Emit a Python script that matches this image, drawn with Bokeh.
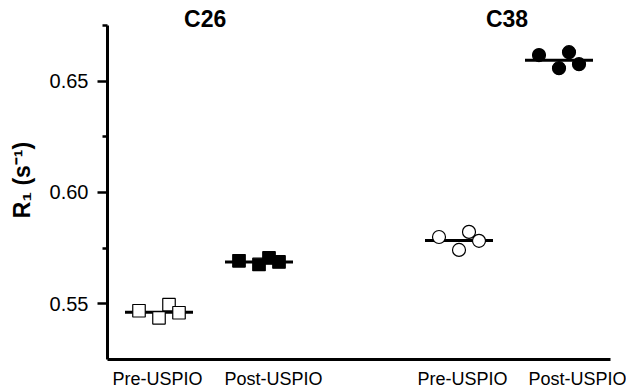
from math import pi
from bokeh.plotting import figure
from bokeh.models import FixedTicker, Label, ColumnDataSource
from bokeh.embed import file_html
from bokeh.resources import INLINE

# ---- data ----
groups = ["C26", "C38"]
conditions = ["Pre-USPIO", "Post-USPIO"]
c26_pre = [0.5469, 0.5437, 0.5496, 0.5460]
c26_post = [0.5693, 0.5677, 0.5706, 0.5688]
c38_pre = [0.5800, 0.5742, 0.5823, 0.5783]
c38_post = [0.6617, 0.6558, 0.6630, 0.6576]
means = [0.5462, 0.5688, 0.5784, 0.6594]
x_tick_labels = ["Pre-USPIO", "Post-USPIO", "Pre-USPIO", "Post-USPIO"]
y_major = [0.55, 0.60, 0.65]
y_minor = [0.575, 0.625, 0.675]

# ---- layout constants ----
centers = [1, 2, 4, 5]
jitter = [-0.2, 0.0, 0.1, 0.2]
half = 0.34
label_pos = [0.985, 2.145, 4.035, 5.205]
FONT = "Liberation Sans"

p = figure(width=626, height=391, x_range=(0.485, 5.515), y_range=(0.525, 0.6862),
           output_backend="svg", toolbar_location=None,
           min_border_left=107, min_border_right=16, min_border_top=0, min_border_bottom=31)
p.grid.visible = False
p.outline_line_color = None
p.background_fill_color = "white"
p.border_fill_color = "white"

# mean lines
p.segment(x0=[c - half for c in centers], x1=[c + half for c in centers],
          y0=means, y1=means, line_color="black", line_width=3)

series = [c26_pre, c26_post, c38_pre, c38_post]
markers = ["square", "square", "circle", "circle"]
fills = ["white", "black", "white", "black"]
sizes = [12.5, 12.5, 13, 13]
for vals, c, m, f, s in zip(series, centers, markers, fills, sizes):
    src = ColumnDataSource(dict(x=[c + j for j in jitter], y=vals))
    p.scatter("x", "y", source=src, marker=m, size=s, fill_color=f,
              line_color="black", line_width=1.2)

# y axis
ya = p.yaxis[0]
ya.bounds = (0.525, 0.675)
ya.ticker = FixedTicker(ticks=y_major, minor_ticks=y_minor)
ya.major_label_overrides = {0.55: "0.55", 0.6: "0.60", 0.65: "0.65"}
ya.axis_line_width = 3
ya.major_tick_line_width = 2.5
ya.minor_tick_line_width = 2.5
ya.major_tick_out = 10
ya.major_tick_in = 0
ya.minor_tick_out = 5
ya.minor_tick_in = 0
ya.major_label_standoff = 9
ya.major_label_text_font = FONT
ya.major_label_text_font_size = "20px"
ya.major_label_text_color = "black"
ya.axis_label = "R\u2081 (s\u207b\u00b9)"
ya.axis_label_text_font = FONT
ya.axis_label_text_font_size = "23px"
ya.axis_label_text_font_style = "bold"
ya.axis_label_text_color = "black"
ya.axis_label_standoff = 12

# x axis
xa = p.xaxis[0]
xa.ticker = FixedTicker(ticks=label_pos)
xa.major_label_overrides = {lp: t for lp, t in zip(label_pos, x_tick_labels)}
xa.axis_line_width = 3
xa.major_tick_line_color = None
xa.minor_tick_line_color = None
xa.major_tick_out = 0
xa.major_tick_in = 0
xa.major_label_standoff = 9
xa.major_label_text_font = FONT
xa.major_label_text_font_size = "18px"
xa.major_label_text_color = "black"

# group titles
for g, gx in zip(groups, [1.462, 4.48]):
    p.add_layout(Label(x=gx, y=0.678, text=g, text_font=FONT, text_font_size="23px",
                       text_font_style="bold", text_align="center", text_baseline="middle",
                       text_color="black"))

open("out.html", "w").write(file_html(p, INLINE))
